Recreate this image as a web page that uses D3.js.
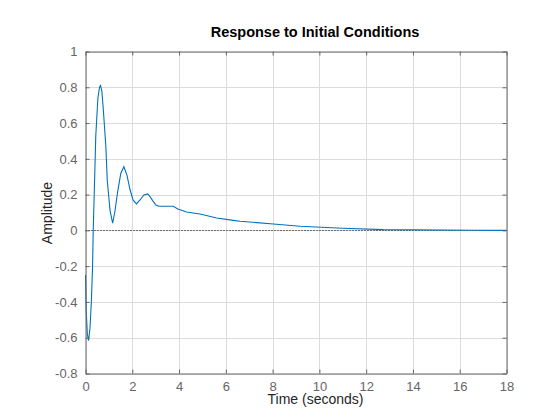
<!DOCTYPE html>
<html>
<head>
<meta charset="utf-8">
<script src="https://cdn.jsdelivr.net/npm/d3@7"></script>
<style>
  html, body { margin: 0; padding: 0; background: #fff; }
  svg { display: block; font-family: "Liberation Sans", Arial, sans-serif; }
</style>
</head>
<body>
<svg id="chart" width="560" height="420"></svg>
<script>
// ---- data ----
const titleText = "Response to Initial Conditions";
const xLabelText = "Time (seconds)";
const yLabelText = "Amplitude";
const xTicks = [0, 2, 4, 6, 8, 10, 12, 14, 16, 18];
const yTicks = [-0.8, -0.6, -0.4, -0.2, 0, 0.2, 0.4, 0.6, 0.8, 1];
const timeValues = [0, 0.03, 0.08, 0.13, 0.19, 0.25, 0.30, 0.33, 0.37, 0.44, 0.53, 0.60, 0.64, 0.70, 0.77, 0.87, 0.93, 1.05, 1.16,
  1.25, 1.38, 1.51, 1.64, 1.77, 1.90, 2.03, 2.18, 2.33, 2.50, 2.66, 2.75, 2.88, 3.01, 3.14, 3.75, 3.95, 4.32, 4.9, 5.61, 6.32, 6.61,
  8.03, 9.18, 11.0, 12.73, 16.6, 18];
const amplitudeValues = [-0.25, -0.45, -0.58, -0.617, -0.55, -0.40, -0.21, 0.0, 0.19, 0.53, 0.74, 0.80, 0.81, 0.78, 0.66, 0.47, 0.28, 0.11, 0.04,
  0.10, 0.22, 0.32, 0.356, 0.31, 0.23, 0.17, 0.148, 0.17, 0.198, 0.204, 0.19, 0.165, 0.142, 0.135, 0.135, 0.12, 0.103, 0.092, 0.069, 0.056, 0.051,
  0.036, 0.023, 0.012, 0.004, 0.001, 0.0];

// ---- layout ----
const svg = d3.select("#chart");
const pLeft = 85.5, pRight = 506.5, pTop = 51.5, pBottom = 373.5;
const x = d3.scaleLinear().domain([0, 18]).range([pLeft, pRight]);
const y = d3.scaleLinear().domain([-0.8, 1]).range([pBottom, pTop]);
const axisColor = "#666666";

// grid
const grid = svg.append("g");
grid.selectAll("line.vx").data(xTicks).enter().append("line")
  .attr("x1", d => Math.round(x(d)) + 0.5).attr("x2", d => Math.round(x(d)) + 0.5)
  .attr("y1", pTop).attr("y2", pBottom)
  .attr("stroke", "#dcdcdc").attr("stroke-width", 1);
grid.selectAll("line.hy").data(yTicks).enter().append("line")
  .attr("y1", d => Math.round(y(d)) + 0.5).attr("y2", d => Math.round(y(d)) + 0.5)
  .attr("x1", pLeft).attr("x2", pRight)
  .attr("stroke", "#dcdcdc").attr("stroke-width", 1);

// zero reference dotted line
svg.append("line")
  .attr("x1", pLeft).attr("x2", pRight)
  .attr("y1", Math.round(y(0)) + 0.5).attr("y2", Math.round(y(0)) + 0.5)
  .attr("stroke", "#000").attr("stroke-width", 1).attr("stroke-dasharray", "1,2");

// response line
const pts = timeValues.map((t, i) => [t, amplitudeValues[i]]);
svg.append("path")
  .datum(pts)
  .attr("fill", "none")
  .attr("stroke", "#0072BD")
  .attr("stroke-width", 1.1)
  .attr("d", d3.line().x(d => x(d[0])).y(d => y(d[1])));

// axes (ticks inward, box on)
const xAxisB = d3.axisBottom(x).tickValues(xTicks).tickSizeInner(-4).tickSizeOuter(0).tickPadding(8).tickFormat(d3.format("d"));
const xAxisT = d3.axisTop(x).tickValues(xTicks).tickSizeInner(-4).tickSizeOuter(0).tickFormat("");
const yAxisL = d3.axisLeft(y).tickValues(yTicks).tickSizeInner(-4).tickSizeOuter(0).tickPadding(8).tickFormat(d => d === 0 ? "0" : String(+d.toFixed(1)));
const yAxisR = d3.axisRight(y).tickValues(yTicks).tickSizeInner(-4).tickSizeOuter(0).tickFormat("");

function styleAxis(g) {
  g.selectAll("path.domain").attr("stroke", axisColor);
  g.selectAll(".tick line").attr("stroke", axisColor);
  g.selectAll(".tick text").attr("fill", axisColor).style("font-size", "13px").style("font-family", "Liberation Sans, Arial, sans-serif");
}
svg.append("g").attr("transform", `translate(0,${pBottom})`).call(xAxisB).call(styleAxis);
svg.append("g").attr("transform", `translate(0,${pTop})`).call(xAxisT).call(styleAxis);
svg.append("g").attr("transform", `translate(${pLeft},0)`).call(yAxisL).call(styleAxis);
svg.append("g").attr("transform", `translate(${pRight},0)`).call(yAxisR).call(styleAxis);

// labels
svg.append("text").attr("x", 315).attr("y", 37).attr("text-anchor", "middle")
  .style("font-size", "14.5px").style("font-weight", "bold").attr("fill", "#000").text(titleText);
svg.append("text").attr("x", 315.5).attr("y", 404).attr("text-anchor", "middle")
  .style("font-size", "14px").attr("fill", "#262626").text(xLabelText);
svg.append("text").attr("transform", "translate(52,213) rotate(-90)").attr("text-anchor", "middle")
  .style("font-size", "14px").attr("fill", "#262626").text(yLabelText);
</script>
</body>
</html>
